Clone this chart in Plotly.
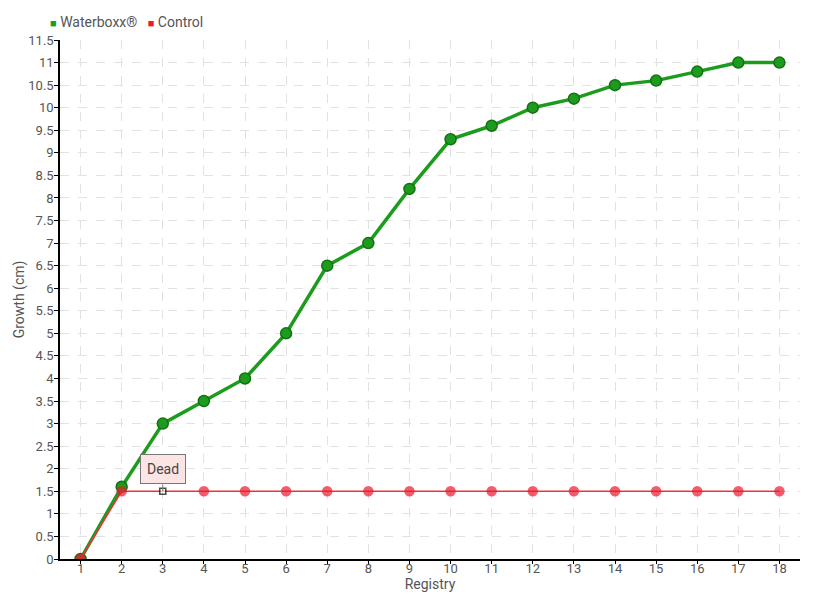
import plotly.graph_objects as go

registry = list(range(1, 19))
waterboxx = [0, 1.6, 3, 3.5, 4, 5, 6.5, 7, 8.2, 9.3, 9.6, 10, 10.2, 10.5, 10.6, 10.8, 11, 11]
control = [0] + [1.5] * 17
y_ticks = [i * 0.5 for i in range(24)]
y_labels = [("%g" % v) for v in y_ticks]
series_names = ["Waterboxx®", "Control"]

FONT = "Roboto, sans-serif"
GREEN = "#1c9c1c"
RED = "#ec1a2e"

fig = go.Figure()
fig.add_trace(go.Scatter(
    x=registry, y=waterboxx, name=series_names[0], mode="lines+markers",
    line=dict(color=GREEN, width=3.5), showlegend=False,
    marker=dict(size=11, color=GREEN, line=dict(color="#157015", width=1.5)),
))
ctrl_symbols = ["circle"] * len(control)
ctrl_colors = [RED] * len(control)
ctrl_line = [RED] * len(control)
ctrl_sizes = [9] * len(control)
ctrl_symbols[2] = "square"
ctrl_colors[2] = "white"
ctrl_line[2] = "black"
ctrl_sizes[2] = 6
fig.add_trace(go.Scatter(
    x=registry, y=control, name=series_names[1], mode="lines+markers",
    line=dict(color="#f0303f", width=1.5), showlegend=False,
    marker=dict(size=ctrl_sizes, color=ctrl_colors, symbol=ctrl_symbols,
                line=dict(color=ctrl_line, width=1.5)),
))

# compact legend (square swatch + label)
fig.add_annotation(
    xref="paper", yref="paper", x=-0.016, y=1.0, yshift=18,
    xanchor="left", yanchor="middle", showarrow=False,
    text=(f"<span style='color:{GREEN};font-size:11px'>■</span> {series_names[0]}   "
          f"<span style='color:{RED};font-size:11px'>■</span> {series_names[1]}"),
    font=dict(family=FONT, size=14, color="#555"),
)

fig.add_annotation(
    x=3, y=1.5, text="Dead", showarrow=True, arrowhead=0, arrowwidth=1,
    arrowcolor="#777", ax=0, ay=-7, yanchor="bottom",
    bgcolor="#fde4e4", bordercolor="#777", borderwidth=1, borderpad=6,
    font=dict(family=FONT, size=14, color="#444"),
)

# page has an 8px body margin; size the figure so the plot area lands at 60..800 x 40..559
fig.update_layout(
    width=812, height=592,
    margin=dict(l=52, r=20, t=32, b=41, autoexpand=False),
    paper_bgcolor="white", plot_bgcolor="white",
    font=dict(family=FONT, size=13, color="#555"),
    showlegend=False,
    xaxis=dict(
        range=[0.5, 18.5], tickmode="array", tickvals=registry,
        ticktext=[str(r) for r in registry], automargin=False,
        showline=True, linecolor="black", linewidth=1.5,
        ticks="outside", ticklen=3, tickcolor="black", ticklabelstandoff=-6,
        showgrid=True, gridcolor="#e2e2e2", griddash="dash", gridwidth=1,
        zeroline=False,
        title=dict(text="Registry", standoff=0, font=dict(size=14, color="#555")),
    ),
    yaxis=dict(
        range=[0, 11.5], tickmode="array", tickvals=y_ticks, ticktext=y_labels,
        automargin=False,
        showline=True, linecolor="black", linewidth=1.5,
        ticks="outside", ticklen=4, tickcolor="black", ticklabelstandoff=-2,
        showgrid=True, gridcolor="#e2e2e2", griddash="dash", gridwidth=1,
        zeroline=False,
        title=dict(text="Growth (cm)", standoff=0, font=dict(size=14, color="#555")),
    ),
)

fig.write_html("out.html")
